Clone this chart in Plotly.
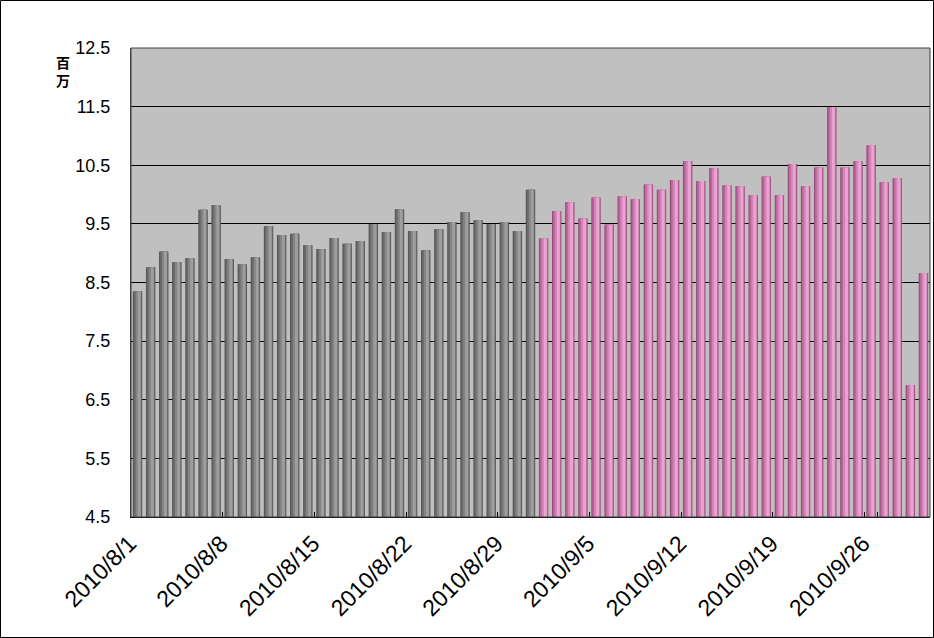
import plotly.graph_objects as go

aug_dates = [f"2010/8/{d}" for d in range(1, 32)]
sep_dates = [f"2010/9/{d}" for d in range(1, 31)]

aug_values = [8.35, 8.76, 9.03, 8.85, 8.92, 9.74, 9.82, 8.90, 8.81, 8.93,
              9.46, 9.31, 9.33, 9.14, 9.07, 9.26, 9.16, 9.21, 9.50, 9.36,
              9.75, 9.38, 9.05, 9.41, 9.53, 9.70, 9.56, 9.50, 9.53, 9.38,
              10.08]
sep_values = [9.25, 9.72, 9.87, 9.59, 9.95, 9.49, 9.97, 9.92, 10.17, 10.08,
              10.25, 10.57, 10.23, 10.45, 10.16, 10.14, 9.99, 10.31, 9.99, 10.52,
              10.14, 10.46, 11.49, 10.46, 10.57, 10.84, 10.21, 10.28, 6.75, 8.66]

tick_labels = ["2010/8/1", "2010/8/8", "2010/8/15", "2010/8/22", "2010/8/29",
               "2010/9/5", "2010/9/12", "2010/9/19", "2010/9/26"]

y_min, y_max = 4.5, 12.5

# shading layers (offset, width, colour) to mimic cylinder gradient
gray_layers = [(-0.36, 0.72, "#585858"), (-0.27, 0.58, "#6c6c6c"),
               (-0.14, 0.40, "#848484"), (0.02, 0.22, "#9e9e9e")]
pink_layers = [(-0.36, 0.72, "#9a4e7e"), (-0.27, 0.58, "#b8689a"),
               (-0.14, 0.40, "#d484b8"), (0.02, 0.22, "#eaa4d0")]

fig = go.Figure()
for dates, vals, layers in ((aug_dates, aug_values, gray_layers),
                            (sep_dates, sep_values, pink_layers)):
    for off, wid, col in layers:
        fig.add_trace(go.Bar(
            x=dates, y=[v - y_min for v in vals], base=y_min,
            offset=off, width=wid,
            marker=dict(color=col, line=dict(width=0)),
            hoverinfo="skip", showlegend=False))

all_dates = aug_dates + sep_dates

W, H = 934, 638
ml, mr, mt, mb = 131, 4, 48, 121
pw, ph = W - ml - mr, H - mt - mb

fig.update_layout(
    width=W, height=H,
    margin=dict(l=ml, r=mr, t=mt, b=mb, pad=0),
    barmode="overlay",
    paper_bgcolor="white",
    plot_bgcolor="#c0c0c0",
    showlegend=False,
    font=dict(family="Arial, Liberation Sans", color="black"),
    xaxis=dict(
        type="category",
        categoryorder="array", categoryarray=all_dates,
        range=[-0.5, len(all_dates) - 0.5],
        tickmode="array", tickvals=tick_labels, ticktext=tick_labels,
        tickson="boundaries",
        ticks="inside", ticklen=5, tickcolor="black", tickwidth=1,
        tickangle=-45,
        tickfont=dict(size=23, color="black"),
        ticklabelshift=-8, ticklabelstandoff=3,
        showgrid=False,
        showline=True, linecolor="black", linewidth=1,
        zeroline=False,
    ),
    yaxis=dict(
        range=[y_min, y_max],
        tickmode="linear", tick0=4.5, dtick=1,
        tickformat=".1f",
        tickfont=dict(size=18, color="black"),
        ticks="", ticklabelstandoff=16,
        showgrid=True, gridcolor="black", gridwidth=1,
        showline=True, linecolor="#404040", linewidth=1,
        zeroline=False,
    ),
    annotations=[
        dict(text="<b>百</b><br><b>万</b>", xref="paper", yref="paper",
             x=(63 - ml) / pw, y=1 + (mt - 50) / ph,
             xanchor="center", yanchor="top", showarrow=False,
             font=dict(family="Noto Sans CJK JP", size=14, color="black")),
    ],
    shapes=[
        dict(type="rect", xref="paper", yref="paper",
             x0=0, x1=1, y0=0, y1=1,
             line=dict(color="#404040", width=1), fillcolor="rgba(0,0,0,0)"),
        dict(type="rect", xref="paper", yref="paper",
             x0=(0.5 - ml) / pw, x1=(W - 0.5 - ml) / pw,
             y0=-(H - 0.5 - mt - ph) / ph, y1=1 + (mt - 0.5) / ph,
             line=dict(color="black", width=1), fillcolor="rgba(0,0,0,0)"),
    ],
)

fig.write_html("out.html",
               config={"displayModeBar": False},
               post_script="document.body.style.margin='0px';"
                           "document.body.style.overflow='hidden';")
